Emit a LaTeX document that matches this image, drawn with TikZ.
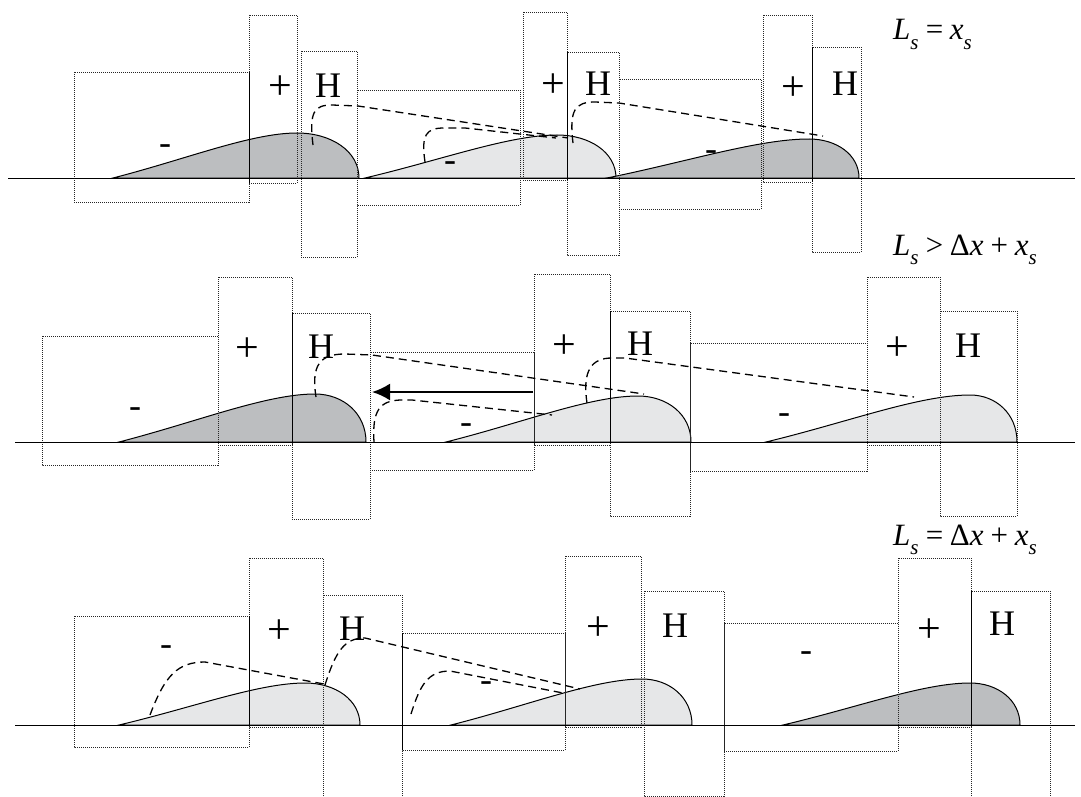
\documentclass[tikz,border=0pt]{standalone}
\usepackage{fontspec}
\setmainfont{Liberation Serif}
\usepackage{tikz}
\usetikzlibrary{arrows.meta}
\definecolor{humpdark}{RGB}{188,190,192}
\definecolor{humplight}{RGB}{230,231,232}
\newcommand{\lowidx}[1]{\raisebox{-0.3em}{\fontsize{21}{21}\selectfont\itshape #1}}

\begin{document}
\begin{tikzpicture}[x=1pt,y=-1pt,
    box/.style={draw=black!85,line width=0.8pt,dash pattern=on 1pt off 1pt},
    wall/.style={draw=black,line width=0.8pt},
    trail/.style={line width=1.3pt,dash pattern=on 8pt off 5pt},
    hump/.style={draw=black,line width=1pt},
    sign/.style={font=\fontsize{36}{36}\selectfont,inner sep=0pt},
    plus/.style={font=\fontsize{42}{42}\selectfont,inner sep=0pt},
    cond/.style={font=\fontsize{31}{31}\selectfont\itshape,anchor=base west,inner sep=0pt}]
    \useasboundingbox (0,0) rectangle (1081,797);
    % row 1: L_s = x_s
    \filldraw[hump,fill=humpdark] (113,178) .. controls (186.6,159.1) and (251,133) .. (297,133) .. controls (331.1,133) and (359,151) .. (359,178) -- cycle;
    \filldraw[hump,fill=humplight] (365,178) .. controls (441.8,159.9) and (509,135) .. (557,135) .. controls (589.5,135) and (616,152.2) .. (616,178) -- cycle;
    \filldraw[hump,fill=humpdark] (607,178) .. controls (687.8,161.6) and (758.5,139) .. (809,139) .. controls (836.5,139) and (859,154.6) .. (859,178) -- cycle;
    \draw[box] (74,72) rectangle (249,202);
    \draw[box] (249,15) rectangle (297,183);
    \draw[box] (301,51) rectangle (357,257);
    \draw[box] (357,90) rectangle (520,205);
    \draw[box] (523,12) rectangle (567,180);
    \draw[box] (567,52) rectangle (619,255);
    \draw[box] (619,79) rectangle (761,209);
    \draw[box] (763,15) rectangle (812,182);
    \draw[box] (812,47) rectangle (861,252);
    \draw[wall] (249,72) -- (249,183);
    \draw[wall] (567,52) -- (567,180);
    \draw[wall] (812,47) -- (812,182);
    \draw[line width=1pt] (8,178) -- (1075,178);
    \draw[trail] (313,145) .. controls (309,112) and (314,105) .. (332,105) -- (358,106) -- (568,138);
    \draw[trail] (425,162) .. controls (421,135) and (426,128) .. (444,128) -- (465,128) -- (556,138);
    \draw[trail] (573,143) .. controls (569,110) and (575,102) .. (595,102) -- (619,103) -- (823,136);
    \node[sign] (r1m1) at (165,150) {-};
    \node[plus] (r1p1) at (280,88) {+};
    \node[sign] (r1h1) at (328,86) {H};
    \node[sign] (r1m2) at (450,167) {-};
    \node[plus] (r1p2) at (553,86) {+};
    \node[sign] (r1h2) at (598,84) {H};
    \node[sign] (r1m3) at (711,156) {-};
    \node[plus] (r1p3) at (793,89) {+};
    \node[sign] (r1h3) at (845,84) {H};
    \node[cond] (c1) at (893,40) {L\lowidx{s}\,=\,x\lowidx{s}};
    % row 2: L_s > dx + x_s
    \filldraw[hump,fill=humpdark] (119,442) .. controls (197.4,421.8) and (266,394) .. (315,394) .. controls (343,394) and (366,413.2) .. (366,442) -- cycle;
    \filldraw[hump,fill=humplight] (446,442) .. controls (522.8,422.7) and (590,396) .. (638,396) .. controls (667.2,396) and (691,414.4) .. (691,442) -- cycle;
    \filldraw[hump,fill=humplight] (766,442) .. controls (847.6,422.3) and (919,395) .. (970,395) .. controls (995.9,395) and (1017,413.8) .. (1017,442) -- cycle;
    \draw[box] (42,336) rectangle (218,465);
    \draw[box] (218,277) rectangle (292,445);
    \draw[box] (292,313) rectangle (370,519);
    \draw[box] (370,352) rectangle (534,470);
    \draw[box] (534,274) rectangle (610,445);
    \draw[box] (610,311) rectangle (690,516);
    \draw[box] (690,343) rectangle (867,471);
    \draw[box] (867,277) rectangle (940,445);
    \draw[box] (940,311) rectangle (1017,516);
    \draw[wall] (292,313) -- (292,442);
    \draw[wall] (610,311) -- (610,442);
    \draw[line width=1pt] (15,442) -- (1075,442);
    \draw[trail] (316,397) .. controls (311,365) and (320,354) .. (345,354) -- (372,355) -- (644,394);
    \draw[trail] (374,442) .. controls (372,410) and (380,401) .. (400,400) -- (412,400) -- (552,415);
    \draw[trail] (587,403) .. controls (582,370) and (592,358) .. (612,358) -- (625,358) -- (914,397);
    \coordinate (shiftS) at (533,392);
    \coordinate (shiftE) at (372,392);
    \draw[-{Latex[length=18pt,width=17pt]},line width=2.2pt] (shiftS) -- (shiftE);
    \node[sign] (r2m1) at (135,413) {-};
    \node[plus] (r2p1) at (247,350) {+};
    \node[sign] (r2h1) at (321,347) {H};
    \node[sign] (r2m2) at (466,429) {-};
    \node[plus] (r2p2) at (564,347) {+};
    \node[sign] (r2h2) at (640,344) {H};
    \node[sign] (r2m3) at (784,419) {-};
    \node[plus] (r2p3) at (897,349) {+};
    \node[sign] (r2h3) at (968,346) {H};
    \node[cond] (c2) at (893,255) {L\lowidx{s}\,>\,{\upshape Δ}x\,+\,x\lowidx{s}};
    % row 3: L_s = dx + x_s
    \filldraw[hump,fill=humplight] (119,725) .. controls (193.4,707.4) and (258.5,683) .. (305,683) .. controls (335.3,683) and (360,699.8) .. (360,725) -- cycle;
    \filldraw[hump,fill=humplight] (451,725) .. controls (527.4,705.7) and (594.3,679) .. (642,679) .. controls (669.5,679) and (692,697.4) .. (692,725) -- cycle;
    \filldraw[hump,fill=humpdark] (783,725) .. controls (857.8,707.4) and (923.3,683) .. (970,683) .. controls (997.5,683) and (1020,699.8) .. (1020,725) -- cycle;
    \draw[box] (74,616) rectangle (249,747);
    \draw[box] (249,558) rectangle (323,727);
    \draw[box] (323,810) |- (402,595) -- (402,810);
    \draw[box] (402,633) rectangle (565,750);
    \draw[box] (565,556) rectangle (641,727);
    \draw[box] (644,591) rectangle (724,796);
    \draw[box] (724,623) rectangle (898,751);
    \draw[box] (898,558) rectangle (971,727);
    \draw[box] (971,810) |- (1050,591) -- (1050,810);
    \draw[wall] (249,616) -- (249,725);
    \draw[wall] (402,633) -- (402,750);
    \draw[wall] (971,591) -- (971,725);
    \draw[line width=1pt] (15,725) -- (1075,725);
    \draw[trail] (150,715) .. controls (165,675) and (178,662) .. (205,662) -- (324,684);
    \draw[trail] (325,685) .. controls (336,650) and (345,638) .. (365,638) -- (580,689);
    \draw[trail] (411,714) .. controls (420,685) and (428,671) .. (450,671) -- (563,693);
    \node[sign] (r3m1) at (166,651) {-};
    \node[plus] (r3p1) at (279,632) {+};
    \node[sign] (r3h1) at (352,629) {H};
    \node[sign] (r3m2) at (486,687) {-};
    \node[plus] (r3p2) at (598,629) {+};
    \node[sign] (r3h2) at (675,626) {H};
    \node[sign] (r3m3) at (806,657) {-};
    \node[plus] (r3p3) at (929,631) {+};
    \node[sign] (r3h3) at (1002,624) {H};
    \node[cond] (c3) at (893,545) {L\lowidx{s}\,=\,{\upshape Δ}x\,+\,x\lowidx{s}};
\end{tikzpicture}
\end{document}
